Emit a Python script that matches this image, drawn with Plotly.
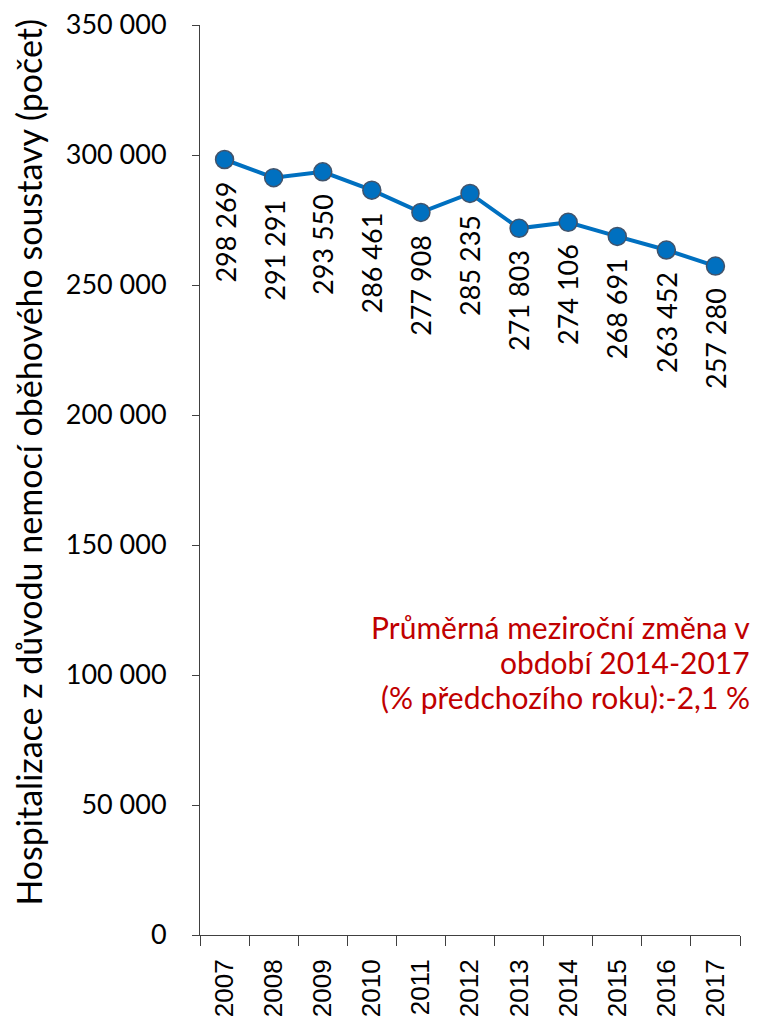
import plotly.graph_objects as go

years = ["2007", "2008", "2009", "2010", "2011", "2012", "2013", "2014", "2015", "2016", "2017"]
hospitalizations = [298269, 291291, 293550, 286461, 277908, 285235, 271803, 274106, 268691, 263452, 257280]
y_ticks = [0, 50000, 100000, 150000, 200000, 250000, 300000, 350000]
y_title = "Hospitalizace z důvodu nemocí oběhového soustavy (počet)"
note_lines = ["Průměrná meziroční změna v", "období 2014-2017", "(% předchozího roku):-2,1 %"]

BLUE = "#0070C0"
BODY_FONT = "Lato"


def fmt(v):
    return f"{v:,}".replace(",", " ")


fig = go.Figure()
fig.add_trace(go.Scatter(
    x=years,
    y=hospitalizations,
    mode="lines+markers",
    line=dict(color=BLUE, width=4),
    marker=dict(size=18, color=BLUE, line=dict(color="#41536B", width=1.5)),
    hoverinfo="skip",
))

# value labels, rotated, hanging below each point (category index as x)
for i, v in enumerate(hospitalizations):
    fig.add_annotation(
        x=i, y=v, text=fmt(v), textangle=-90, showarrow=False,
        xanchor="center", yanchor="top", yshift=-20,
        font=dict(family=BODY_FONT, size=27, color="#000000"),
    )

# note in red, one annotation per line for tight spacing
for k, line in enumerate(note_lines):
    fig.add_annotation(
        xref="paper", yref="paper", x=1.022, y=0.338 - k * 0.038,
        text=line, showarrow=False, align="right",
        xanchor="right", yanchor="middle",
        font=dict(family=BODY_FONT, size=30, color="#C00000"),
    )

# vertical axis title
fig.add_annotation(
    xref="paper", yref="paper", x=-0.317, y=0.52,
    text=y_title, textangle=-90, showarrow=False,
    xanchor="center", yanchor="middle",
    font=dict(family=BODY_FONT, size=34, color="#000000"),
)

fig.update_layout(
    width=757, height=1021,
    margin=dict(l=200, r=17, t=25, b=86),
    paper_bgcolor="white", plot_bgcolor="white",
    showlegend=False,
    xaxis=dict(
        type="category", automargin=False,
        showline=True, linecolor="#404040", linewidth=1,
        ticks="outside", tickson="boundaries", ticklen=10, tickcolor="#404040",
        tickangle=-90, showgrid=False, ticklabelstandoff=13,
        tickfont=dict(family="Liberation Sans", size=26, color="#000000"),
        range=[-0.5, len(years) - 0.5],
    ),
    yaxis=dict(
        range=[0, 350000], automargin=False,
        tickvals=y_ticks, ticktext=[fmt(t) for t in y_ticks],
        showline=True, linecolor="#404040", linewidth=1,
        ticks="outside", ticklen=7, tickcolor="#404040",
        showgrid=False, zeroline=False, ticklabelstandoff=20,
        tickfont=dict(family=BODY_FONT, size=27, color="#000000"),
    ),
)

fig.write_html("out.html")
